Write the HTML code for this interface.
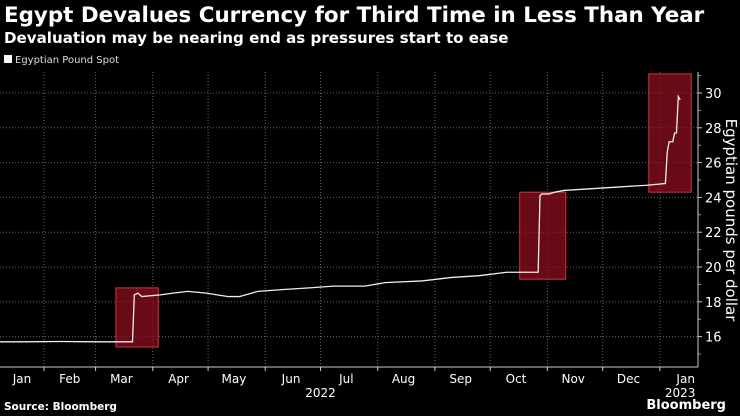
<!DOCTYPE html>
<html><head><meta charset="utf-8"><style>
body{margin:0;background:#000;width:740px;height:416px;overflow:hidden;font-family:"DejaVu Sans","Liberation Sans",sans-serif;color:#fff}
.t{position:absolute;left:4px;top:3px;font-weight:bold;font-size:21.4px;white-space:nowrap}
.s{position:absolute;left:4px;top:29px;font-weight:bold;font-size:15.1px;white-space:nowrap}
.l{position:absolute;left:4px;top:55px;font-size:10px;color:#ddd}
.l span{display:inline-block;width:8px;height:8px;background:#fff;margin-right:3px}
.src{position:absolute;left:4px;top:401px;font-weight:bold;font-size:10.5px}
.bb{position:absolute;right:14px;top:398px;font-weight:bold;font-size:13px}
</style></head><body>
<div class="t">Egypt Devalues Currency for Third Time in Less Than Year</div>
<div class="s">Devaluation may be nearing end as pressures start to ease</div>
<div class="l"><span></span>Egyptian Pound Spot</div>
<svg id="c" width="740" height="416" style="position:absolute;left:0;top:0"></svg>
<div class="src">Source: Bloomberg</div>
<div class="bb">Bloomberg</div>
<script>
const dates=["2022-01-01","2022-01-20","2022-02-10","2022-03-01","2022-03-21","2022-03-22","2022-03-24","2022-03-26","2022-04-05","2022-04-12","2022-04-20","2022-04-30","2022-05-12","2022-05-18","2022-05-28","2022-06-10","2022-06-25","2022-07-08","2022-07-25","2022-08-05","2022-08-25","2022-09-10","2022-09-25","2022-10-10","2022-10-27","2022-10-28","2022-10-29","2022-11-02","2022-11-05","2022-11-10","2022-11-25","2022-12-10","2022-12-25","2023-01-04","2023-01-05","2023-01-06","2023-01-08","2023-01-09","2023-01-10","2023-01-11","2023-01-12"];
const values=[15.7,15.7,15.72,15.7,15.7,18.4,18.5,18.3,18.4,18.5,18.6,18.5,18.3,18.3,18.6,18.7,18.8,18.9,18.9,19.1,19.2,19.4,19.5,19.7,19.7,24.1,24.2,24.2,24.3,24.4,24.5,24.6,24.7,24.8,26.6,27.2,27.2,27.7,27.7,29.8,29.6];
const yTicks=[16,18,20,22,24,26,28,30];
const months=["Jan","Feb","Mar","Apr","May","Jun","Jul","Aug","Sep","Oct","Nov","Dec","Jan"];
const boxes=[["2022-03-12","2022-04-04",15.4,18.8],["2022-10-17","2022-11-11",19.3,24.3],["2022-12-26","2023-01-18",24.3,31.1]];
const svg=document.getElementById('c'),NS="http://www.w3.org/2000/svg";
const t0=Date.UTC(2022,0,1);
function X(d){const p=d.split('-');return -13.2+(Date.UTC(+p[0],p[1]-1,+p[2])-t0)/864e5*1.844;}
function Y(v){return 267-(v-20)*17.4;}
function mk(tag,a,name,txt){const e=document.createElementNS(NS,tag);for(const k in a)e.setAttribute(k,a[k]);


if(txt!==undefined)e.textContent=txt;svg.appendChild(e);return e;}
const L=0,R=698,T=72,B=367;
for(const v of yTicks){mk('line',{x1:L,x2:R,y1:Y(v),y2:Y(v),stroke:'#666','stroke-dasharray':'1,2'},'y-gridline');
mk('line',{x1:R,x2:R+4,y1:Y(v),y2:Y(v),stroke:'#ccc'},'y-tick');
mk('text',{x:R+7,y:Y(v)+5,fill:'#fff','font-size':13},'y-tick-label',v);}
for(let v=15;v<=31;v+=2)mk('line',{x1:R,x2:R+3,y1:Y(v),y2:Y(v),stroke:'#999'},'y-minor-tick');
for(let m=1;m<=12;m++){const d=(m<12?"2022-"+String(m+1).padStart(2,'0'):"2023-01")+"-01";const x=X(d);
mk('line',{x1:x,x2:x,y1:T,y2:B,stroke:'#666','stroke-dasharray':'1,2'},'x-gridline');
mk('line',{x1:x,x2:x,y1:B,y2:B+4,stroke:'#ccc'},'x-tick');}
months.forEach((m,i)=>{const y=i<12?2022:2023,mo=i<12?i+1:1;let x=X(y+"-"+String(mo).padStart(2,'0')+"-15");
if(i===0)x=X("2022-02-01")/2;
mk('text',{x:x,y:383,fill:'#fff','font-size':12,'text-anchor':'middle'},'x-tick-label',m);});
mk('text',{x:X("2022-07-01"),y:397,fill:'#fff','font-size':12,'text-anchor':'middle'},'year-label',"2022");
mk('text',{x:X("2023-01-12"),y:397,fill:'#fff','font-size':12,'text-anchor':'middle'},'year-label',"2023");
boxes.forEach(b=>{mk('rect',{x:X(b[0]),y:Y(b[3]),width:X(b[1])-X(b[0]),height:Y(b[2])-Y(b[3]),fill:'rgba(140,15,30,0.75)',stroke:'#d23040','stroke-width':1},'devaluation-highlight');});
mk('line',{x1:L,x2:R,y1:B,y2:B,stroke:'#ccc'},'x-axis');
mk('line',{x1:R,x2:R,y1:T,y2:B,stroke:'#ccc'},'y-axis');
mk('polyline',{points:dates.map((d,i)=>X(d)+','+Y(values[i])).join(' '),fill:'none',stroke:'#eee','stroke-width':1.3},'pound-spot-line');
mk('text',{x:0,y:0,fill:'#fff','font-size':15,'text-anchor':'middle',transform:'translate(726,220) rotate(90)'},'y-axis-title',"Egyptian pounds per dollar");
</script>
</body></html>
